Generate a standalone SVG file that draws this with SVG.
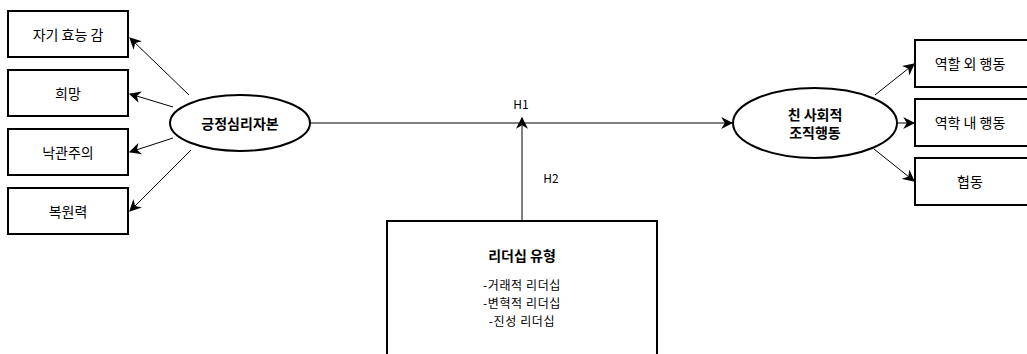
<svg xmlns="http://www.w3.org/2000/svg" width="1027" height="354" viewBox="0 0 1027 354">
<style>
.box{fill:#fff;stroke:#000;stroke-width:2}
.ell{fill:#fff;stroke:#000;stroke-width:2}
.t{font-family:"Noto Sans CJK KR","Malgun Gothic",sans-serif;font-size:14px;fill:#000;text-anchor:middle;dominant-baseline:central}
.l{font-size:12px;letter-spacing:0.6px}
.b{font-weight:bold}
.s{font-family:"Noto Sans CJK KR",sans-serif;font-size:12px;fill:#000;text-anchor:middle;dominant-baseline:central}
.c{fill:none;stroke:#000;stroke-width:1}
</style>
<defs>
<marker id="ar" viewBox="0 0 10 10" refX="9" refY="5" markerWidth="12" markerHeight="12" markerUnits="userSpaceOnUse" orient="auto">
<path d="M0,0 L10,5 L0,10 L3,5 z" fill="#000"/>
</marker>
</defs>
<g id="connectors">
<line class="c" x1="189" y1="95" x2="130" y2="38" marker-end="url(#ar)"/>
<line class="c" x1="173" y1="107" x2="130" y2="94" marker-end="url(#ar)"/>
<line class="c" x1="173" y1="138" x2="130" y2="152" marker-end="url(#ar)"/>
<line class="c" x1="191" y1="150" x2="130" y2="211" marker-end="url(#ar)"/>
<line class="c" x1="310" y1="123" x2="732" y2="123" marker-end="url(#ar)"/>
<line class="c" x1="522" y1="221" x2="522" y2="118" marker-end="url(#ar)"/>
<line class="c" x1="875" y1="95" x2="914" y2="64" marker-end="url(#ar)"/>
<line class="c" x1="897" y1="123" x2="914" y2="123" marker-end="url(#ar)"/>
<line class="c" x1="874" y1="149" x2="914" y2="181" marker-end="url(#ar)"/>
<text class="s" x="521" y="103">H1</text>
<text class="s" x="551" y="177">H2</text>
</g>
<g id="n-self"><rect class="box" x="8" y="11" width="120" height="46"/><text class="t" x="68" y="34">자기 효능 감</text></g>
<g id="n-hope"><rect class="box" x="8" y="70" width="120" height="46"/><text class="t" x="68" y="93">희망</text></g>
<g id="n-opt"><rect class="box" x="8" y="129" width="120" height="46"/><text class="t" x="68" y="152">낙관주의</text></g>
<g id="n-res"><rect class="box" x="8" y="188" width="120" height="46"/><text class="t" x="68" y="211">복원력</text></g>
<g id="n-pcap"><ellipse class="ell" cx="240" cy="123" rx="70" ry="28"/><text class="t b" x="240" y="123">긍정심리자본</text></g>
<g id="n-ocb"><ellipse class="ell" cx="815" cy="123" rx="82" ry="35"/><text class="t b" x="815" y="114">친 사회적</text><text class="t b" x="815" y="132">조직행동</text></g>
<g id="n-extra"><rect class="box" x="915" y="40" width="120" height="47"/><text class="t" x="970" y="63">역할 외 행동</text></g>
<g id="n-intra"><rect class="box" x="915" y="99" width="120" height="47"/><text class="t" x="970" y="122">역학 내 행동</text></g>
<g id="n-coop"><rect class="box" x="915" y="158" width="120" height="47"/><text class="t" x="970" y="181">협동</text></g>
<g id="n-lead"><rect class="box" x="387" y="221" width="270" height="150"/>
<text class="t b" x="522" y="255">리더십 유형</text>
<text class="t l" x="522" y="284">-거래적 리더십</text>
<text class="t l" x="522" y="302">-변혁적 리더십</text>
<text class="t l" x="522" y="320">-진성 리더십</text>
</g>
</svg>
